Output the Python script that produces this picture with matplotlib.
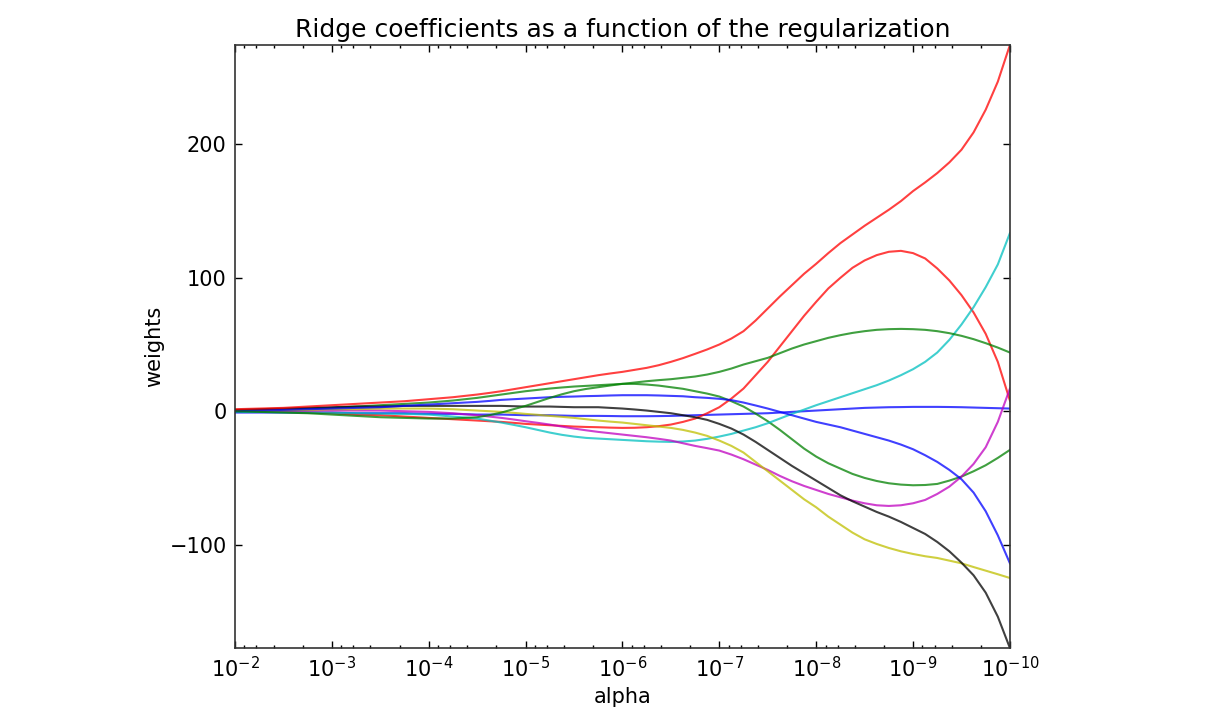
import numpy as np
import matplotlib
matplotlib.use('Agg')
import matplotlib.pyplot as plt
from matplotlib.ticker import FixedLocator

# regularization strengths (exponent of alpha)
log_alpha = [-2.0, -2.25, -2.5, -2.75, -3.0, -3.25, -3.5, -3.75, -4.0, -4.25, -4.5,
             -4.625, -4.75, -4.875, -5.0, -5.125, -5.25, -5.375, -5.5, -5.625, -5.75,
             -5.875, -6.0, -6.125, -6.25, -6.375, -6.5, -6.625, -6.75, -6.875, -7.0,
             -7.125, -7.25, -7.375, -7.5, -7.625, -7.75, -7.875, -8.0, -8.125, -8.25,
             -8.375, -8.5, -8.625, -8.75, -8.875, -9.0, -9.125, -9.25, -9.375, -9.5,
             -9.625, -9.75, -9.875, -10.0]

# coefficient paths (weights)
w_blue1 = [-1, -1, -1, -1, -1, -1.5, -1.5, -1.5, -2, -2, -2.5,
           -2.5, -2.5, -2.75, -3, -3, -3, -3.25, -3.5, -3.5, -3.5, -3.6, -3.75,
           -3.75, -3.75, -3.65, -3.5, -3.25, -3, -2.75, -2.5, -2.25, -2, -1.75,
           -1.5, -1, -0.5, 0, 0.5, 1, 1.5, 2, 2.5, 2.75, 3, 3.1, 3.25, 3.25, 3.25,
           3.15, 3, 2.75, 2.5, 2.25, 2]
w_green1 = [0.5, 1, 1.5, 2, 2.5, 3.5, 4.5, 5.5, 6.5, 8, 10,
            11.25, 12.5, 13.75, 15, 16, 17, 17.8, 18.5, 19, 19.5, 20, 20.5, 20.5,
            20, 19.2, 18, 16.8, 15, 13.2, 11, 7.5, 3.5, -1.8, -7.5, -14, -21, -28,
            -34, -39, -43, -47, -50, -52.3, -54, -55, -55.5, -55.3, -54.5, -52, -49,
            -45, -40.5, -35, -29]
w_red1 = [0.5, 0, -0.5, -1, -1.5, -2.5, -3, -4, -5, -6, -7,
          -7.5, -8, -8.7, -9.5, -10, -10.5, -11, -11.5, -11.8, -12, -12.3, -12.5,
          -12.4, -12, -11.2, -10, -8, -5.5, -1.5, 3, 9.5, 17, 27, 37, 48.5, 60,
          71.5, 82, 92, 100, 107.5, 113, 117, 119.5, 120.2, 118.5, 114.5, 107, 98,
          87, 74, 58, 37, 8]
w_cyan = [-0.5, -0.5, -0.75, -1, -1.25, -1.5, -1.75, -2, -2.5, -4, -5.5,
          -7, -8.5, -10.2, -12, -14, -16, -17.7, -19, -20, -20.5, -21, -21.5, -22,
          -22.5, -22.8, -23, -22.7, -22, -20.7, -19, -17, -14.5, -12, -9, -5.5, -2,
          1.2, 4.5, 7.5, 10.5, 13.5, 16.5, 19.5, 23, 27, 31.5, 37, 44, 53.5, 65, 78,
          93, 110, 133.5]
w_magenta = [0.5, 0.5, 0.5, 0.5, 0.5, 0.5, 0.5, 0, -0.5, -1.5, -3,
             -4, -5, -6.2, -7.5, -8.7, -10, -11.5, -13, -14.3, -15.5, -16.5, -17.5,
             -18.5, -19.5, -20.7, -22, -24, -26, -27.7, -29.5, -32.5, -36, -40, -44,
             -48.5, -52.5, -56, -59, -62, -64.5, -67, -69, -70.5, -71, -70.5, -69,
             -66.5, -62, -56.5, -49, -39.5, -27, -8, 17]
w_yellow = [0.5, 0.5, 1, 1, 1.5, 1.5, 2, 2, 2, 1.5, 0.5,
            0, -0.5, -1.2, -2, -2.7, -3.5, -4.2, -5, -6, -7, -7.8, -8.5, -9.5,
            -10.5, -11.5, -12.5, -14, -16, -18.5, -22, -26, -31, -38, -45, -52, -59,
            -66, -72, -79, -85, -91, -96, -99.5, -102.5, -105, -107, -108.7, -110,
            -112, -114, -116.8, -119.5, -122.2, -125]
w_black = [1, 1.5, 2, 2.5, 3, 3.5, 3.5, 4, 4, 4, 4,
           4, 4, 3.75, 3.5, 3.5, 3.5, 3.25, 3, 3, 3, 2.5, 2, 1.3, 0.5, -0.5, -1.5,
           -3, -4.5, -6.5, -9.5, -13, -17.5, -23, -29, -35, -41, -46.5, -52, -57.5,
           -63, -67.5, -71.5, -75.5, -79, -83, -87.5, -92, -98, -105, -113.5, -123,
           -136, -154, -177.5]
w_blue2 = [0, 0.5, 1, 1.5, 2, 2.5, 3, 4, 5, 6, 7,
           7.7, 8.5, 9, 9.5, 10, 10.5, 10.8, 11, 11.3, 11.5, 11.8, 12, 12, 12, 11.8,
           11.5, 11.2, 10.5, 10, 9.3, 8.3, 6.5, 4.3, 2, -0.5, -3, -5.5, -8, -10,
           -12, -14.5, -17, -19.5, -22, -25, -28.5, -33, -38, -44, -51, -61, -75,
           -93, -114]
w_green2 = [0, -0.5, -1, -1.5, -2.5, -3.5, -4.5, -5, -5.5, -5.5, -4.5,
            -3, -1, 1.5, 4, 7, 10, 12.7, 15, 16.7, 18, 19.3, 20.5, 21.5, 22.5, 23.3,
            24, 25, 26, 27.5, 29.5, 32, 35, 37.5, 40, 43.5, 47, 50, 52.5, 55, 57,
            58.7, 60, 61, 61.5, 61.7, 61.5, 61, 60, 58.5, 56.5, 54, 51, 47.7, 44]
w_red2 = [1.5, 2, 2.5, 3.5, 4.5, 5.5, 6.5, 7.5, 9, 10.5, 12.5,
          13.7, 15, 16.5, 18, 19.5, 21, 22.5, 24, 25.5, 27, 28.3, 29.5, 31, 32.5,
          34.5, 37, 39.8, 43, 46.3, 50, 54.5, 60, 68, 77, 86, 94.5, 103, 110.5,
          118.5, 126, 132.5, 139, 145, 151, 157.5, 165, 171.5, 178.5, 186.5, 196,
          209, 226, 247, 274.5]

paths = [w_blue1, w_green1, w_red1, w_cyan, w_magenta, w_yellow, w_black,
         w_blue2, w_green2, w_red2]
colors = ['b', 'g', 'r', 'c', 'm', 'y', 'k', 'b', 'g', 'r']

alphas = 10.0 ** np.array(log_alpha)

fig = plt.figure(figsize=(12.2, 7.21), dpi=100)
ax = fig.add_axes([0.1926, 0.1012, 0.6352, 0.8364])

for w, c in zip(paths, colors):
    ax.plot(alphas, w, color=c, linewidth=1.5, alpha=0.75)

ax.set_xscale('log')
ax.set_xlim(alphas[0], alphas[-1])   # reversed axis
all_w = np.concatenate([np.array(p, dtype=float) for p in paths])
ax.set_ylim(all_w.min(), all_w.max())
ax.set_yticks([-100, 0, 100, 200])

# old-style log minor ticks (2, 4, 6, 8 per decade)
minor = [m * 10.0 ** e for e in range(-10, -2) for m in (2, 4, 6, 8)]
ax.xaxis.set_minor_locator(FixedLocator(minor))

ax.tick_params(which='both', direction='in', top=True, right=True,
               labelsize=15, pad=6)
ax.tick_params(which='major', length=5, width=1)
ax.tick_params(which='minor', length=2.5, width=1)
for s in ax.spines.values():
    s.set_linewidth(1.2)
    s.set_color('#333333')

ax.set_xlabel('alpha', fontsize=15)
ax.set_ylabel('weights', fontsize=15)
ax.set_title('Ridge coefficients as a function of the regularization', fontsize=18)

fig.savefig('out.png', dpi=100)
